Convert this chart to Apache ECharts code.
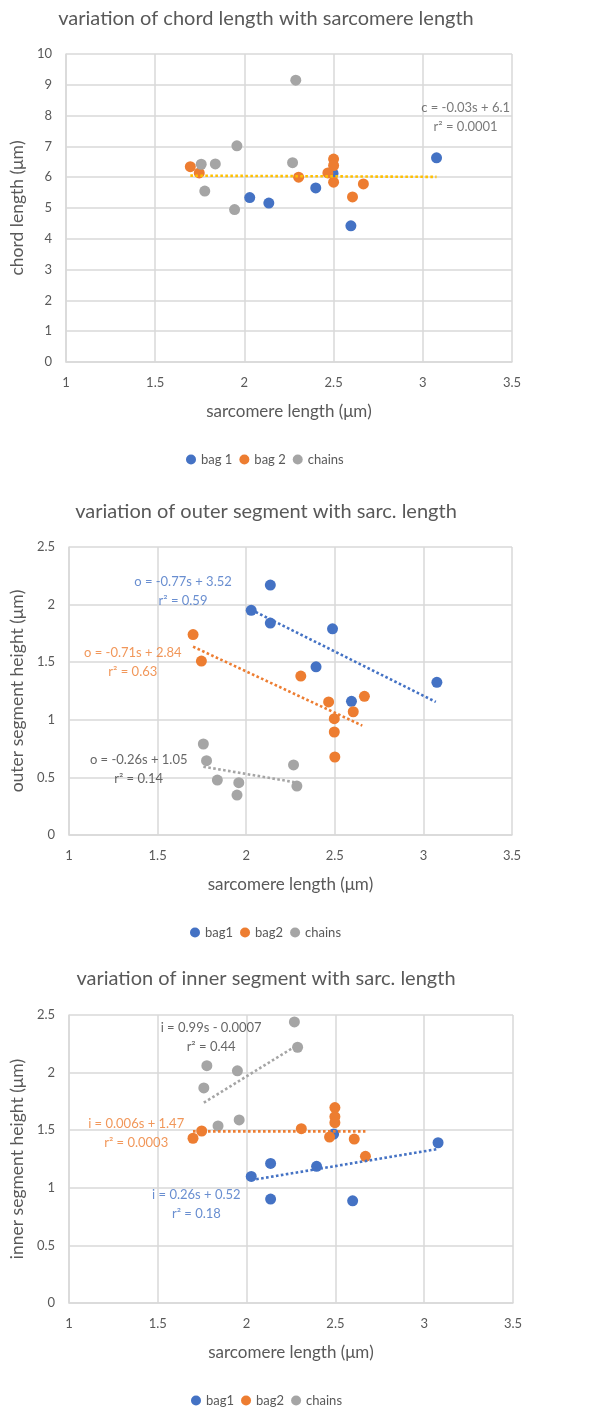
<!DOCTYPE html>
<html><head><meta charset="utf-8">
<script src="https://cdn.jsdelivr.net/npm/echarts@6/dist/echarts.min.js"></script>
<style>html,body{margin:0;padding:0;background:#fff}#c{width:590px;height:1408px}</style>
</head><body><div id="c"></div>
<script>
// ---- Chart 1: chord length ----
const chordTitle = 'variation of chord length with sarcomere length';
const chordYName = 'chord length (μm)';
const chordLegend = ['bag 1', 'bag 2', 'chains'];
const chordBag1 = [[2.03,5.34],[2.137,5.16],[2.40,5.65],[2.597,4.42],[3.077,6.63],[2.497,6.12]];
const chordBag2 = [[1.697,6.34],[1.747,6.14],[2.304,6.00],[2.468,6.14],[2.5,6.59],[2.5,6.38],[2.5,5.84],[2.606,5.36],[2.667,5.78]];
const chordChains = [[1.758,6.42],[1.837,6.43],[1.778,5.55],[1.958,7.02],[1.945,4.95],[2.27,6.47],[2.288,9.15]];
const chordTrend = [[1.697,6.05],[3.077,6.01]];
const chordNote = [[3.24,7.94,'c = -0.03s + 6.1\nr² = 0.0001']];
const chordTicksY = {min:0, max:10, interval:1};

// ---- Chart 2: outer segment ----
const outerTitle = 'variation of outer segment with sarc. length';
const outerYName = 'outer segment height (μm)';
const outerLegend = ['bag1', 'bag2', 'chains'];
const outerBag1 = [[2.136,2.17],[2.028,1.95],[2.136,1.84],[2.487,1.79],[2.394,1.46],[2.594,1.16],[3.076,1.325]];
const outerBag2 = [[1.70,1.74],[1.747,1.51],[2.308,1.38],[2.465,1.155],[2.497,1.01],[2.497,0.894],[2.5,0.677],[2.604,1.07],[2.667,1.204]];
const outerChains = [[1.758,0.79],[1.776,0.645],[1.837,0.477],[1.958,0.454],[1.948,0.347],[2.267,0.608],[2.286,0.425]];
const outerTrendBag1 = [[2.028,1.955],[3.07,1.155]];
const outerTrendBag2 = [[1.70,1.635],[2.655,0.95]];
const outerTrendChains = [[1.758,0.593],[2.286,0.455]];
const outerNoteBag1 = [[1.643,2.115,'o = -0.77s + 3.52\nr² = 0.59']];
const outerNoteBag2 = [[1.36,1.50,'o = -0.71s + 2.84\nr² = 0.63']];
const outerNoteChains = [[1.393,0.569,'o = -0.26s + 1.05\nr² = 0.14']];

// ---- Chart 3: inner segment ----
const innerTitle = 'variation of inner segment with sarc. length';
const innerYName = 'inner segment height (μm)';
const innerLegend = ['bag1', 'bag2', 'chains'];
const innerBag1 = [[2.49,1.467],[3.078,1.391],[2.026,1.099],[2.135,1.212],[2.394,1.186],[2.135,0.902],[2.597,0.887]];
const innerBag2 = [[1.698,1.43],[1.747,1.493],[2.308,1.513],[2.467,1.441],[2.497,1.696],[2.497,1.617],[2.497,1.565],[2.606,1.423],[2.669,1.273]];
const innerChains = [[2.269,2.44],[2.287,2.22],[1.776,2.06],[1.948,2.015],[1.759,1.867],[1.839,1.537],[1.958,1.589]];
const innerTrendBag1 = [[2.026,1.067],[3.07,1.335]];
const innerTrendBag2 = [[1.698,1.49],[2.669,1.49]];
const innerTrendChains = [[1.759,1.739],[2.287,2.24]];
const innerNoteBag1 = [[1.717,0.857,'i = 0.26s + 0.52\nr² = 0.18']];
const innerNoteBag2 = [[1.378,1.471,'i = 0.006s + 1.47\nr² = 0.0003']];
const innerNoteChains = [[1.80,2.308,'i = 0.99s - 0.0007\nr² = 0.44']];
const segTicksY = {min:0, max:2.5, interval:0.5};

const xTicks = {min:1, max:3.5, interval:0.5};
const xName = 'sarcomere length (μm)';

const BLUE = '#4472C4', ORANGE = '#ED7D31', GRAY = '#A5A5A5', GOLD = '#FFC000', TXT = '#595959';
const FONT = 'Lato';

const grids = [
  {left:59, top:54, width:453, height:308},
  {left:62, top:547, width:450, height:288},
  {left:63, top:1015, width:450, height:288}
];

function xAxis(i){
  return {gridIndex:i, type:'value', min:xTicks.min, max:xTicks.max, interval:xTicks.interval,
    name:xName, nameLocation:'middle', nameGap:41,
    nameTextStyle:{fontFamily:FONT, fontSize:17, color:TXT},
    axisLine:{show:true, lineStyle:{color:'#D9D9D9', width:1.5}}, axisTick:{show:false},
    axisLabel:{fontFamily:FONT, fontSize:13, color:TXT, margin:14},
    splitLine:{show:true, lineStyle:{color:'#D9D9D9', width:1.5}}};
}
function yAxis(i, ticks, name){
  return {gridIndex:i, type:'value', min:ticks.min, max:ticks.max, interval:ticks.interval,
    name:name, nameLocation:'middle', nameGap:28,
    nameTextStyle:{fontFamily:FONT, fontSize:17.5, color:TXT},
    axisLine:{show:true, lineStyle:{color:'#D9D9D9', width:1.5}}, axisTick:{show:false},
    axisLabel:{fontFamily:FONT, fontSize:13, color:TXT, margin:14},
    splitLine:{show:true, lineStyle:{color:'#D9D9D9', width:1.5}}};
}
function pts(name, i, data, color){
  return {type:'scatter', name:name, xAxisIndex:i, yAxisIndex:i, data:data, symbol:'circle', symbolSize:11,
    itemStyle:{color:color, opacity:1}, emphasis:{disabled:true}, silent:true, z:2};
}
function trend(i, data, color){
  return {type:'line', xAxisIndex:i, yAxisIndex:i, data:data, symbol:'none', silent:true, z:3,
    lineStyle:{color:color, width:2.6, type:[2.6,2.4]}, emphasis:{disabled:true}};
}
function note(i, data, color){
  return {type:'scatter', xAxisIndex:i, yAxisIndex:i, data:data, symbolSize:1, silent:true, z:4,
    itemStyle:{color:'rgba(0,0,0,0)'}, emphasis:{disabled:true},
    label:{show:true, position:'inside', formatter:p=>p.data[2], color:color,
      fontFamily:FONT, fontSize:13, lineHeight:19, align:'center'}};
}
function title(text, top){
  return {text:text, left:261, textAlign:'center', top:top, textStyle:{fontFamily:FONT, fontSize:20, fontWeight:'normal', color:TXT}};
}
function legend(data, left, top){
  return {data:data, top:top, left:left, icon:'circle', itemWidth:10, itemHeight:10, itemGap:7,
    selectedMode:false, textStyle:{fontFamily:FONT, fontSize:13, color:TXT}};
}

const option = {
  animation:false,
  title:[title(chordTitle,4), title(outerTitle,497), title(innerTitle,964)],
  legend:[legend(chordLegend,181,448), legend(outerLegend,185,921), legend(innerLegend,186,1389)],
  grid:grids,
  xAxis:[xAxis(0), xAxis(1), xAxis(2)],
  yAxis:[yAxis(0,chordTicksY,chordYName), yAxis(1,segTicksY,outerYName), yAxis(2,segTicksY,innerYName)],
  series:[
    pts(chordLegend[0],0,chordBag1,BLUE), pts(chordLegend[1],0,chordBag2,ORANGE), pts(chordLegend[2],0,chordChains,GRAY),
    trend(0,chordTrend,GOLD), note(0,chordNote,TXT),
    pts(outerLegend[0],1,outerBag1,BLUE), pts(outerLegend[1],1,outerBag2,ORANGE), pts(outerLegend[2],1,outerChains,GRAY),
    trend(1,outerTrendBag1,BLUE), trend(1,outerTrendBag2,ORANGE), trend(1,outerTrendChains,GRAY),
    note(1,outerNoteBag1,BLUE), note(1,outerNoteBag2,ORANGE), note(1,outerNoteChains,'#404040'),
    pts(innerLegend[0],2,innerBag1,BLUE), pts(innerLegend[1],2,innerBag2,ORANGE), pts(innerLegend[2],2,innerChains,GRAY),
    trend(2,innerTrendBag1,BLUE), trend(2,innerTrendBag2,ORANGE), trend(2,innerTrendChains,GRAY),
    note(2,innerNoteBag1,BLUE), note(2,innerNoteBag2,ORANGE), note(2,innerNoteChains,'#404040')
  ]
};
const chart = echarts.init(document.getElementById('c'), null, {renderer:'canvas'});
chart.setOption(option);
</script>
</body></html>
